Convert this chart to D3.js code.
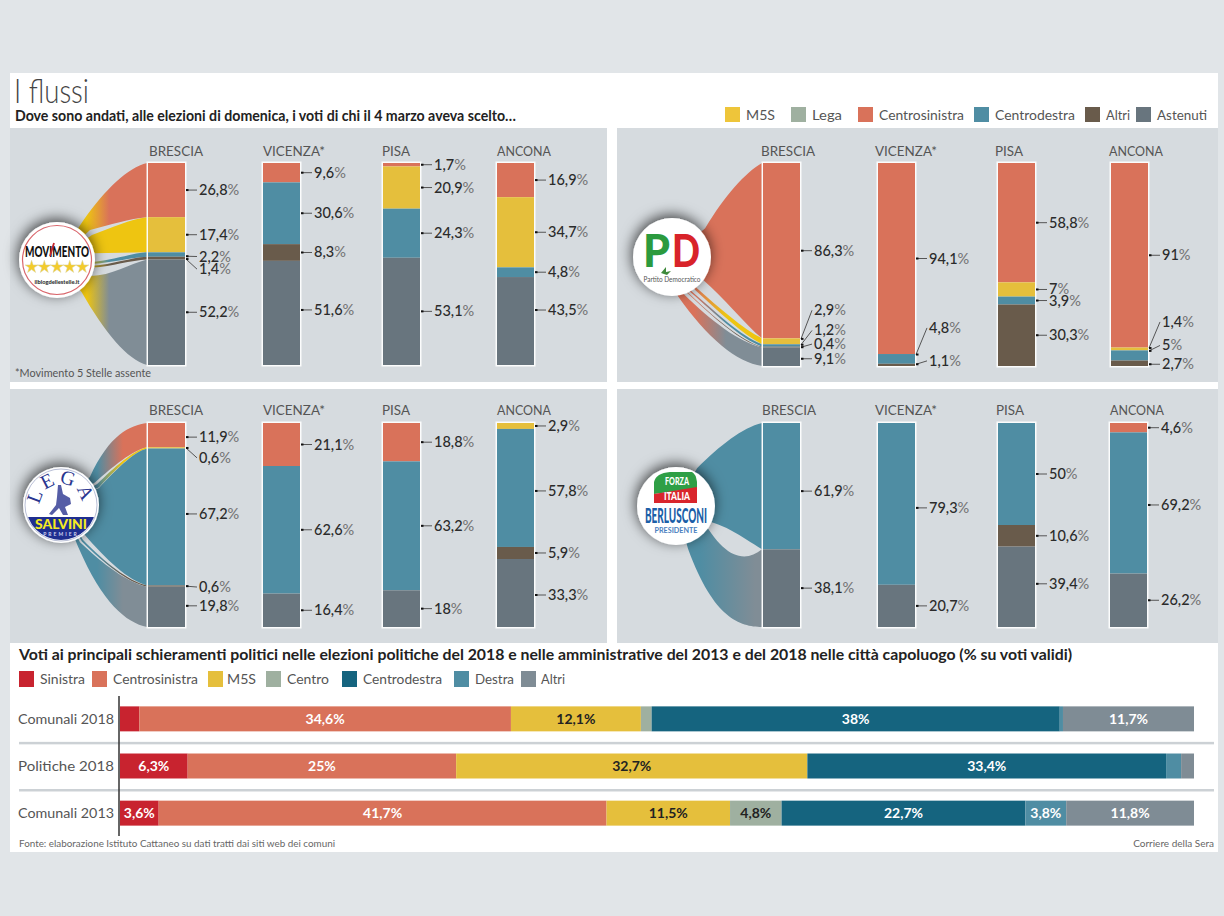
<!DOCTYPE html>
<html><head><meta charset="utf-8">
<script src="https://cdnjs.cloudflare.com/ajax/libs/d3/7.8.5/d3.min.js"></script>
<style>html,body{margin:0;padding:0;background:#e1e5e8}svg{display:block}text{font-family:Lato,sans-serif}</style>
</head><body><svg id="c" width="1224" height="916"></svg>
<script>
// ---------- data ----------
const cities = ["BRESCIA","VICENZA*","PISA","ANCONA"];
const legendTop = ["M5S","Lega","Centrosinistra","Centrodestra","Altri","Astenuti"];

const m5sSeries = [["Centrosinistra","M5S","Centrodestra","Altri","Astenuti"],["Centrosinistra","Centrodestra","Altri","Astenuti"],["Centrosinistra","M5S","Centrodestra","Astenuti"],["Centrosinistra","M5S","Centrodestra","Astenuti"]];
const m5sValues = [[26.8,17.4,2.2,1.4,52.2],[9.6,30.6,8.3,51.6],[1.7,20.9,24.3,53.1],[16.9,34.7,4.8,43.5]];

const pdSeries = [["Centrosinistra","M5S","Centrodestra","Altri","Astenuti"],["Centrosinistra","Centrodestra","Altri"],["Centrosinistra","M5S","Centrodestra","Altri"],["Centrosinistra","M5S","Centrodestra","Altri"]];
const pdValues = [[86.3,2.9,1.2,0.4,9.1],[94.1,4.8,1.1],[58.8,7,3.9,30.3],[91,1.4,5,2.7]];

const legaSeries = [["Centrosinistra","M5S","Centrodestra","Altri","Astenuti"],["Centrosinistra","Centrodestra","Astenuti"],["Centrosinistra","Centrodestra","Astenuti"],["M5S","Centrodestra","Altri","Astenuti"]];
const legaValues = [[11.9,0.6,67.2,0.6,19.8],[21.1,62.6,16.4],[18.8,63.2,18],[2.9,57.8,5.9,33.3]];

const fiSeries = [["Centrodestra","Astenuti"],["Centrodestra","Astenuti"],["Centrodestra","Altri","Astenuti"],["Centrosinistra","Centrodestra","Astenuti"]];
const fiValues = [[61.9,38.1],[79.3,20.7],[50,10.6,39.4],[4.6,69.2,26.2]];

const rows = ["Comunali 2018","Politiche 2018","Comunali 2013"];
const bottomSeries = ["Sinistra","Centrosinistra","M5S","Centro","Centrodestra","Destra","Altri"];
const comunali2018 = [1.8,34.6,12.1,1.0,38,0.3,11.7];
const politiche2018 = [6.3,25,32.7,0,33.4,1.4,1.4];
const comunali2013 = [3.6,41.7,11.5,4.8,22.7,3.8,11.8];

const title = "I flussi";
const subtitle = "Dove sono andati, alle elezioni di domenica, i voti di chi il 4 marzo aveva scelto…";
const title2 = "Voti ai principali schieramenti politici nelle elezioni politiche del 2018 e nelle amministrative del 2013 e del 2018 nelle città capoluogo (% su voti validi)";

// ---------- styles / layout ----------
const color = {"M5S":"#e5bf3c","Lega":"#9fb0a0","Centrosinistra":"#d9725a","Centrodestra":"#4f8da3","Altri":"#695b4b","Astenuti":"#68757e"};
const flowColor = Object.assign({},color,{"Astenuti":"#808d96","M5S":"#eec511"});
const bottomColor = {"Sinistra":"#c8232f","Centrosinistra":"#d9725a","M5S":"#e5bf3c","Centro":"#9fb0a0","Centrodestra":"#15647f","Destra":"#4f8da3","Altri":"#7f8c95"};
const bottomInk = {"M5S":"#222","Centro":"#222"};
const headWidths = [54,62,28,54];

// Ribbon shape at the logo end, one [top edge, bottom edge] per flow; each edge is
// [x, y in logo radii from the logo centre, curve pull near logo, curve pull near bar].
const panels = [
 {box:[10,128,597,254],bars:[148,263,383,497],heads:[149,263,382,497],y:[163,365],headY:156,logo:[57,260,38],src:"#eec511",series:m5sSeries,values:m5sValues,grad:[.33,.58],
  nudge:{"0-2":2,"0-3":11,"1-3":-3,"3-3":-11},
  ribbons:[[[.7,-1.05,.55,.92],[.87,-.79,.4,.9]],[[.92,-.66,.4,.9],[.95,-.18,0,.9]],[[.95,.05,.15,.9],[.95,.1,.15,.9]],[[.95,.15,.15,.9],[.95,.2,.15,.9]],[[.9,.42,0,.75],[.65,.85,.55,.93]]]},
 {box:[617,128,601,254],bars:[763,878,998,1111],heads:[761,875,995,1109],y:[163,366],headY:156,logo:[672,257,39],src:"#d9725a",series:pdSeries,values:pdValues,grad:[.25,.6],
  nudge:{"0-1":-31,"0-2":-15,"0-3":-3,"0-4":2,"1-1":-31,"1-2":-4,"3-1":-27,"3-2":-10,"3-3":1},
  ribbons:[[[.85,-.74,.5,.85],[.8,.59,.3,.75]],[[.64,.8,.4,.8],[.6,.85,.4,.8]],[[.5,.88,.4,.85],[.47,.9,.4,.85]],[[.42,.92,.45,.88],[.4,.93,.45,.88]],[[.3,.95,.5,.9],[.15,1,.6,.95]]]},
 {box:[10,389,597,254],bars:[148,263,383,497],heads:[149,263,382,497],y:[423,627],headY:415,logo:[61,505,38],src:"#4f8da3",series:legaSeries,values:legaValues,grad:[.42,.72],
  nudge:{"0-0":2,"0-1":10,"0-2":-3,"0-3":1,"0-4":-1,"3-1":3,"3-3":2},
  ribbons:[[[.76,-.74,.8,.95],[.9,-.6,.45,.9]],[[.95,-.55,.45,.9],[1,-.47,.45,.9]],[[1,-.45,.45,.9],[.63,.79,.5,.9]],[[.58,.92,.5,.9],[.55,.96,.5,.9]],[[.5,.98,.5,.9],[.45,1.1,.7,.95]]]},
 {box:[617,389,601,254],bars:[763,878,998,1110],heads:[762,875,996,1110],y:[423,627],headY:415,logo:[676,506,39],src:"#4f8da3",series:fiSeries,values:fiValues,grad:[.28,.92],
  nudge:{"0-0":5,"1-0":4,"2-2":-3,"3-1":2},
  ribbons:[[[.54,-.97,.5,.9],[.54,.36,0,.6]],[[.62,.23,1.2,1.45],[.31,1.1,.9,.99]]]}
];
const barW = 37;

const svg = d3.select("#c");
const defs = svg.append("defs");
const shadow = defs.append("filter").attr("id","sh").attr("x","-50%").attr("y","-50%").attr("width","200%").attr("height","200%");
shadow.append("feDropShadow").attr("dx",-1).attr("dy",-3).attr("stdDeviation",7).attr("flood-color","#000").attr("flood-opacity",.7);

// page + card
svg.append("rect").attr("x",10).attr("y",73).attr("width",1208).attr("height",779).attr("fill","#fff");
svg.append("text").attr("x",14).attr("y",103).attr("font-size",33).attr("font-weight",300).attr("fill","#444").attr("textLength",75).attr("lengthAdjust","spacingAndGlyphs").text(title);
svg.append("text").attr("x",15).attr("y",121).attr("font-size",14.5).attr("font-weight",700).attr("fill","#222").attr("textLength",501).attr("lengthAdjust","spacingAndGlyphs").text(subtitle);

// top legend
const legX = [725,791,858,974,1085,1136];
const legW = [29,30,85,80,24,50];
legendTop.forEach((s,i)=>{
  svg.append("rect").attr("x",legX[i]).attr("y",107).attr("width",15).attr("height",15).attr("fill",s==="M5S"?"#eec53a":color[s]);
  svg.append("text").attr("x",legX[i]+21).attr("y",120).attr("font-size",14).attr("fill","#555").attr("textLength",legW[i]).attr("lengthAdjust","spacingAndGlyphs").text(s);
});

function pctText(sel,v){
  const t=String(v).replace(".",",");
  sel.append("tspan").attr("fill","#2b2b2b").text(t);
  sel.append("tspan").attr("fill","#777").text("%");
}

panels.forEach((p,pi)=>{
  const g = svg.append("g");
  g.append("rect").attr("x",p.box[0]).attr("y",p.box[1]).attr("width",p.box[2]).attr("height",p.box[3]).attr("fill","#d6dbdf");

  // flows for the first city: the bar end comes from the same scale as the bar
  const vals0 = p.values[0], ser0 = p.series[0];
  const y0 = d3.scaleLinear().domain([0,d3.sum(vals0)]).range(p.y);
  const [cx,cy,r] = p.logo;
  const ex = p.bars[0]-1;
  let cum=0;
  vals0.forEach((v,i)=>{
    const a=cum,b=cum+v; cum=b;
    const [te,be]=p.ribbons[i];
    const id=`fl${pi}-${i}`;
    const lg=defs.append("linearGradient").attr("id",id).attr("gradientUnits","userSpaceOnUse").attr("x1",cx).attr("x2",ex).attr("y1",0).attr("y2",0);
    lg.append("stop").attr("offset",p.grad[0]).attr("stop-color",p.src);
    lg.append("stop").attr("offset",p.grad[1]).attr("stop-color",flowColor[ser0[i]]);
    const edge=(e,t)=>{const sx=cx+e[0]*r,sy=cy+e[1]*r,L=ex-sx;
      return {sx,sy,c1x:sx+.35*L,c1y:sy+(t-sy)*e[2],c2x:sx+.7*L,c2y:sy+(t-sy)*e[3],t};};
    const T=edge(te,y0(a)),B=edge(be,y0(b));
    const path=d3.path();
    path.moveTo(cx,cy);
    path.lineTo(T.sx,T.sy);
    path.bezierCurveTo(T.c1x,T.c1y,T.c2x,T.c2y,ex,T.t);
    path.lineTo(ex,B.t);
    path.bezierCurveTo(B.c2x,B.c2y,B.c1x,B.c1y,B.sx,B.sy);
    path.closePath();
    g.append("path").attr("d",path.toString()).attr("fill",`url(#${id})`);
  });

  // bars
  p.values.forEach((vals,ci)=>{
    const x=p.bars[ci];
    g.append("text").attr("x",p.heads[ci]).attr("y",p.headY).attr("font-size",14).attr("fill","#555").attr("textLength",headWidths[ci]).attr("lengthAdjust","spacingAndGlyphs").text(cities[ci]);
    const y=d3.scaleLinear().domain([0,d3.sum(vals)]).range(p.y);
    g.append("rect").attr("x",x-1.5).attr("y",p.y[0]-1.5).attr("width",barW+3).attr("height",p.y[1]-p.y[0]+3).attr("fill","#fff").attr("fill-opacity",.9);
    let c=0;
    vals.forEach((v,i)=>{
      const a=c,b=c+v;c=b;
      g.append("rect").attr("x",x).attr("y",y(a)).attr("width",barW).attr("height",y(b)-y(a)).attr("fill",color[p.series[ci][i]]);
      const mid=(y(a)+y(b))/2, ly=mid+(p.nudge[`${ci}-${i}`]||0);
      // the tick stays level with its label while the label is still beside its segment
      const ty=Math.max(y(a)+.5,Math.min(y(b)-.5,ly));
      const rx=x+barW+1, lx=rx+13;
      g.append("line").attr("x1",rx).attr("y1",ty).attr("x2",lx-2).attr("y2",ly).attr("stroke","#555").attr("stroke-width",1);
      g.append("rect").attr("x",rx).attr("y",ty-1).attr("width",2.5).attr("height",2).attr("fill","#111");
      g.append("text").attr("x",lx).attr("y",ly+5).attr("font-size",14.5).attr("font-weight",500).call(pctText,v);
    });
  });
});
svg.append("text").attr("x",15).attr("y",377).attr("font-size",10.5).attr("fill","#555").attr("textLength",136).attr("lengthAdjust","spacingAndGlyphs").text("*Movimento 5 Stelle assente");

// ---------- logos ----------
function logoBase(i){
  const [cx,cy,r]=panels[i].logo;
  const g=svg.append("g").attr("transform",`translate(${cx},${cy})`);
  g.append("circle").attr("r",r).attr("fill","#fff").attr("filter","url(#sh)");
  return g;
}
// M5S
{
  const g=logoBase(0);
  g.append("circle").attr("r",34.5).attr("fill","none").attr("stroke","#d9666c").attr("stroke-width",1.2);
  g.append("text").attr("text-anchor","middle").attr("y",-3).attr("font-size",15).attr("font-weight",900).attr("fill","#111").attr("textLength",64).attr("lengthAdjust","spacingAndGlyphs").text("MOVIMENTO");
  g.append("path").attr("d","M-7,-4 L-3,-17").attr("stroke","#c2262e").attr("stroke-width",1.8).attr("fill","none");
  d3.range(5).forEach(i=>g.append("path").attr("d",d3.symbol(d3.symbolStar,52)()).attr("transform",`translate(${(i-2)*12.7},7)`).attr("fill","#f3cb2b").attr("stroke","#d8d2a0").attr("stroke-width",.5));
  g.append("text").attr("text-anchor","middle").attr("y",24).attr("font-size",5.5).attr("font-weight",900).attr("fill","#333").attr("textLength",45).attr("lengthAdjust","spacingAndGlyphs").text("ilblogdellestelle.it");
}
// PD
{
  const g=logoBase(1);
  g.append("text").attr("x",-29).attr("y",10).attr("font-size",46).attr("font-weight",900).attr("fill","#2b9a3e").attr("textLength",27).attr("lengthAdjust","spacingAndGlyphs").text("P");
  g.append("text").attr("x",0).attr("y",10).attr("font-size",46).attr("font-weight",900).attr("fill","#d8232a").attr("textLength",28).attr("lengthAdjust","spacingAndGlyphs").text("D");
  g.append("path").attr("d","M-11,16 L-6,10 L-6,15 L-1,14 L-5,18Z").attr("fill","#3f8a3c");
  g.append("text").attr("text-anchor","middle").attr("y",25).attr("font-size",8).attr("fill","#555").attr("textLength",57).attr("lengthAdjust","spacingAndGlyphs").text("Partito Democratico");
}
// Lega
{
  const g=logoBase(2);
  g.append("circle").attr("r",36).attr("fill","none").attr("stroke","#b9bfd6").attr("stroke-width",1);
  const arcD=d3.path(); arcD.arc(0,0,21,Math.PI*1.02,Math.PI*1.98);
  defs.append("path").attr("id","legaArc").attr("d",arcD.toString());
  g.append("text").attr("font-size",20).attr("fill","#2a3590").attr("style","font-family:'Liberation Serif'").append("textPath").attr("href","#legaArc").attr("startOffset","50%").attr("text-anchor","middle").attr("letter-spacing",3).text("LEGA");
  const clip=defs.append("clipPath").attr("id","legaClip"); clip.append("circle").attr("r",35);
  const c=g.append("g").attr("clip-path","url(#legaClip)");
  c.append("rect").attr("x",-40).attr("y",12).attr("width",80).attr("height",30).attr("fill","#1f2f8f");
  g.append("path").attr("d","M-3,-20 L0,-20 L2,-11 L9,-7 L10,-1 L4,2 L7,10 L2,10 L-2,3 L-9,10 L-12,9 L-5,0 L-4,-8Z").attr("fill","#2a3590").attr("fill-opacity",.8);
  g.append("text").attr("text-anchor","middle").attr("y",24).attr("font-size",14).attr("font-weight",900).attr("fill","#f4ea22").attr("textLength",52).attr("lengthAdjust","spacingAndGlyphs").text("SALVINI");
  g.append("text").attr("text-anchor","middle").attr("y",31).attr("font-size",5).attr("font-weight",700).attr("fill","#cfd3ef").attr("letter-spacing",2).text("PREMIER");
}
// FI
{
  const g=logoBase(3);
  g.append("path").attr("d","M-22,-12 L-22,-24 Q-20,-33 -6,-34 L16,-34 Q20,-32 21,-24 L21,-18Z").attr("fill","#2f9f46");
  g.append("path").attr("d","M-22,-12 L21,-19 L21,-3 L-22,-3Z").attr("fill","#d9262c");
  g.append("text").attr("text-anchor","middle").attr("x",1).attr("y",-21).attr("font-size",11).attr("font-weight",900).attr("fill","#fff").attr("textLength",24).attr("lengthAdjust","spacingAndGlyphs").text("FORZA");
  g.append("text").attr("text-anchor","middle").attr("x",1).attr("y",-6).attr("font-size",11).attr("font-weight",900).attr("fill","#fff").attr("textLength",26).attr("lengthAdjust","spacingAndGlyphs").text("ITALIA");
  g.append("text").attr("text-anchor","middle").attr("y",17).attr("font-size",20).attr("font-weight",900).attr("fill","#1c5fa8").attr("textLength",62).attr("lengthAdjust","spacingAndGlyphs").text("BERLUSCONI");
  g.append("text").attr("text-anchor","middle").attr("y",27).attr("font-size",7).attr("font-weight",700).attr("fill","#4a7fc0").attr("textLength",43).attr("lengthAdjust","spacingAndGlyphs").text("PRESIDENTE");
}

// ---------- bottom chart ----------
svg.append("text").attr("x",19).attr("y",660).attr("font-size",15.5).attr("font-weight",700).attr("fill","#222").attr("textLength",1053).attr("lengthAdjust","spacingAndGlyphs").text(title2);
const bLegX=[19,92,208,266,342,454,521];
const bLegT=[40,113,227,287,363,475,541];
const bLegW=[45,85,29,42,79,39,24];
bottomSeries.forEach((s,i)=>{
  svg.append("rect").attr("x",bLegX[i]).attr("y",671).attr("width",15).attr("height",16).attr("fill",bottomColor[s]);
  svg.append("text").attr("x",bLegT[i]).attr("y",684).attr("font-size",14).attr("fill","#555").attr("textLength",bLegW[i]).attr("lengthAdjust","spacingAndGlyphs").text(s);
});

const rowValues=[comunali2018,politiche2018,comunali2013];
const band=d3.scaleBand().domain(rows).range([696,836]).paddingInner(.47).paddingOuter(.22);
const xB=d3.scaleLinear().domain([0,100]).range([120,1194]);
rows.forEach((r,ri)=>{
  const vals=rowValues[ri];
  const y=band(r),h=band.bandwidth();
  let c=0;
  vals.forEach((v,i)=>{
    const a=c,b=(i===vals.length-1)?100:c+v;c=b;
    if(!v)return;
    const s=bottomSeries[i];
    svg.append("rect").attr("x",xB(a)).attr("y",y).attr("width",xB(b)-xB(a)).attr("height",h).attr("fill",bottomColor[s]);
    if(v>=3){
      svg.append("text").attr("x",(xB(a)+xB(b))/2).attr("y",y+h/2+5).attr("text-anchor","middle").attr("font-size",14).attr("font-weight",700).attr("fill",bottomInk[s]||"#fff").text(String(v).replace(".",",")+"%");
    }
  });
  svg.append("text").attr("x",18).attr("y",y+h/2+5).attr("font-size",14).attr("fill","#555").attr("textLength",96).attr("lengthAdjust","spacingAndGlyphs").text(r);
  if(ri<rows.length-1){
    svg.append("rect").attr("x",19).attr("y",y+h+10.5).attr("width",1195).attr("height",2.5).attr("fill","#ccd1d5");
  }
});
svg.append("line").attr("x1",119).attr("x2",119).attr("y1",696).attr("y2",836).attr("stroke","#333").attr("stroke-width",1.5);
svg.append("text").attr("x",19).attr("y",847).attr("font-size",10).attr("fill","#666").attr("textLength",316).attr("lengthAdjust","spacingAndGlyphs").text("Fonte: elaborazione Istituto Cattaneo su dati tratti dai siti web dei comuni");
svg.append("text").attr("x",1214).attr("y",847).attr("text-anchor","end").attr("font-size",10).attr("fill","#666").text("Corriere della Sera");
</script></body></html>
